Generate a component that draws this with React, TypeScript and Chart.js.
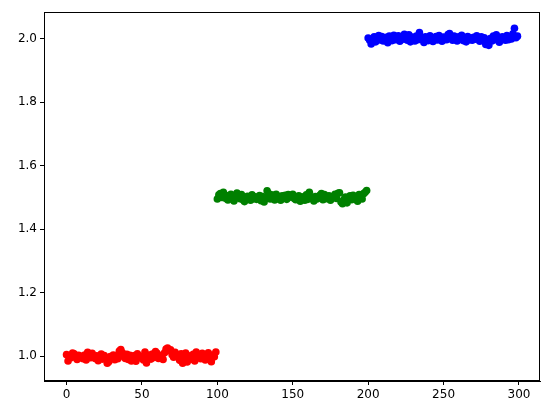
import React, { useEffect, useRef } from "react";
import { Chart, registerables } from "chart.js";

Chart.register(...registerables);

const redY = [
  1.005, 0.985, 1.000, 0.995, 1.010, 1.008, 0.998, 0.990, 1.003, 0.996,
  1.000, 0.992, 1.004, 0.988, 1.012, 1.006, 0.995, 1.009, 0.999, 0.993,
  1.001, 0.986, 0.997, 1.007, 0.991, 1.002, 0.994, 0.978, 0.983, 0.999,
  0.996, 1.004, 0.989, 1.000, 0.992, 1.016, 1.021, 1.011, 0.998, 0.993,
  1.006, 0.990, 1.003, 0.985, 0.997, 1.002, 0.984, 1.008, 0.995, 0.999,
  1.000, 0.988, 1.013, 0.979, 0.994, 1.004, 0.991, 1.007, 0.996, 1.015,
  1.009, 0.993, 1.002, 0.998, 0.990, 1.011, 1.023, 1.026, 1.018, 1.020,
  1.005, 0.997, 1.012, 0.999, 1.003, 0.987, 1.008, 0.978, 0.994, 1.010,
  0.982, 1.001, 0.996, 0.991, 1.006, 0.985, 1.013, 1.002, 0.997, 0.992,
  1.009, 1.004, 0.988, 1.000, 1.011, 0.995, 0.983, 1.003, 0.998, 1.013,
];

const greenY = [
  1.495, 1.508, 1.512, 1.500, 1.516, 1.498, 1.506, 1.492, 1.503, 1.510,
  1.497, 1.489, 1.501, 1.514, 1.505, 1.496, 1.509, 1.493, 1.487, 1.500,
  1.504, 1.499, 1.491, 1.508, 1.496, 1.502, 1.494, 1.498, 1.506, 1.490,
  1.503, 1.486, 1.497, 1.521, 1.512, 1.495, 1.508, 1.499, 1.492, 1.510,
  1.496, 1.503, 1.491, 1.505, 1.498, 1.507, 1.494, 1.509, 1.501, 1.504,
  1.510, 1.497, 1.493, 1.499, 1.505, 1.488, 1.496, 1.502, 1.491, 1.508,
  1.494, 1.516, 1.500, 1.497, 1.489, 1.503, 1.495, 1.499, 1.507, 1.512,
  1.493, 1.509, 1.496, 1.502, 1.505, 1.491, 1.498, 1.504, 1.510, 1.497,
  1.513, 1.515, 1.486, 1.480, 1.494, 1.501, 1.483, 1.499, 1.505, 1.493,
  1.507, 1.496, 1.502, 1.488, 1.509, 1.498, 1.495, 1.512, 1.516, 1.522,
];

const blueY = [
  2.002, 1.995, 1.983, 1.998, 2.006, 1.990, 2.004, 2.010, 1.996, 2.007,
  1.993, 1.999, 2.004, 1.987, 2.008, 2.001, 1.994, 2.011, 1.997, 2.003,
  2.009, 1.992, 2.006, 1.998, 2.014, 2.000, 1.995, 2.012, 1.990, 2.005,
  2.001, 1.993, 2.008, 1.997, 2.019, 2.004, 1.996, 1.988, 2.006, 2.002,
  1.994, 2.009, 1.999, 1.991, 2.003, 2.007, 1.996, 2.010, 1.998, 1.992,
  2.005, 2.001, 1.997, 2.013, 2.016, 2.004, 1.995, 2.008, 2.000, 1.993,
  2.006, 1.999, 2.011, 1.994, 2.003, 1.990, 2.007, 1.997, 2.002, 1.995,
  2.004, 1.998, 2.009, 2.001, 1.992, 2.006, 1.996, 2.003, 1.982, 1.986,
  1.979, 2.000, 1.993, 2.008, 1.997, 2.012, 2.004, 1.989, 1.999, 2.006,
  2.002, 1.995, 2.010, 1.997, 2.004, 1.999, 2.015, 2.033, 2.003, 2.008,
];

const redStart = 0;
const greenStart = 100;
const blueStart = 200;

const xTicks = [0, 50, 100, 150, 200, 250, 300];
const yTicks = [1.0, 1.2, 1.4, 1.6, 1.8, 2.0];

const toPoints = (ys: number[], start: number) =>
  ys.map((y, i) => ({ x: start + i, y }));

const framePlugin = {
  id: "frame",
  afterDraw(chart: any) {
    const { ctx, chartArea } = chart;
    ctx.save();
    ctx.strokeStyle = "#000";
    ctx.lineWidth = 1;
    const l = Math.round(chartArea.left) + 0.5;
    const r = Math.round(chartArea.right) - 0.5;
    const t = Math.round(chartArea.top) + 0.5;
    const b = Math.round(chartArea.bottom) - 0.5;
    ctx.strokeRect(l, t, r - l, b - t);
    ctx.restore();
  },
};

export default function App() {
  const ref = useRef<HTMLCanvasElement | null>(null);

  useEffect(() => {
    if (!ref.current) return;
    const font = { family: "DejaVu Sans", size: 12 };
    const chart = new Chart(ref.current, {
      type: "scatter",
      data: {
        datasets: [
          {
            data: toPoints(redY, redStart),
            backgroundColor: "#ff0000",
            borderColor: "#ff0000",
            pointRadius: 3.8,
            borderWidth: 0,
          },
          {
            data: toPoints(greenY, greenStart),
            backgroundColor: "#008000",
            borderColor: "#008000",
            pointRadius: 3.8,
            borderWidth: 0,
          },
          {
            data: toPoints(blueY, blueStart),
            backgroundColor: "#0000ff",
            borderColor: "#0000ff",
            pointRadius: 3.8,
            borderWidth: 0,
          },
        ],
      },
      options: {
        responsive: false,
        animation: false,
        devicePixelRatio: 1,
        layout: { padding: { top: 12, right: 11, left: 0, bottom: 0 } },
        plugins: {
          legend: { display: false },
          tooltip: { enabled: false },
        },
        scales: {
          x: {
            type: "linear",
            min: -14.95,
            max: 313.95,
            afterBuildTicks: (scale: any) => {
              scale.ticks = xTicks.map((v) => ({ value: v }));
            },
            afterFit: (scale: any) => {
              scale.height = 32;
            },
            ticks: {
              font,
              color: "#000",
              padding: 3,
              maxRotation: 0,
              callback: (v: any) => String(v),
            },
            grid: {
              drawOnChartArea: false,
              drawTicks: true,
              tickLength: 4,
              color: "#000",
            },
            border: { display: true, color: "#000", width: 1 },
          },
          y: {
            type: "linear",
            min: 0.922,
            max: 2.084,
            afterBuildTicks: (scale: any) => {
              scale.ticks = yTicks.map((v) => ({ value: v }));
            },
            afterFit: (scale: any) => {
              scale.width = 44;
            },
            ticks: {
              font,
              color: "#000",
              padding: 3,
              callback: (v: any) => Number(v).toFixed(1),
            },
            grid: {
              drawOnChartArea: false,
              drawTicks: true,
              tickLength: 4,
              color: "#000",
            },
            border: { display: true, color: "#000", width: 1 },
          },
        },
      },
      plugins: [framePlugin],
    });
    return () => chart.destroy();
  }, []);

  return (
    <div style={{ position: "fixed", left: 0, top: 0, width: 551, height: 413, background: "#fff" }}>
      <canvas ref={ref} width={551} height={413} style={{ width: 551, height: 413, display: "block" }} />
    </div>
  );
}
